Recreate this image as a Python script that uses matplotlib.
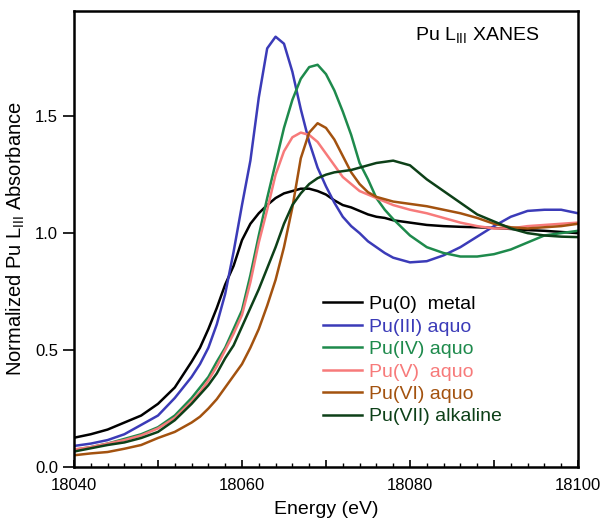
import matplotlib
matplotlib.use("Agg")
import matplotlib.pyplot as plt
from matplotlib.ticker import MultipleLocator, FuncFormatter

plt.rcParams["font.family"] = ["Liberation Sans", "DejaVu Sans"]
plt.rcParams["mathtext.fontset"] = "custom"
plt.rcParams["mathtext.rm"] = "Liberation Sans"
plt.rcParams["mathtext.it"] = "Liberation Sans:italic"

# Energy grid (eV)
energy = [18040, 18042, 18044, 18046, 18048, 18050, 18052, 18054, 18055, 18056,
          18057, 18058, 18059, 18060, 18061, 18062, 18063, 18064, 18065, 18066,
          18067, 18068, 18069, 18070, 18071, 18072, 18073, 18074, 18075, 18076,
          18077, 18078, 18080, 18082, 18084, 18086, 18088, 18090, 18092, 18094,
          18096, 18098, 18100]

pu0_metal = [0.125, 0.14, 0.16, 0.19, 0.22, 0.27, 0.34, 0.45, 0.51, 0.59,
             0.68, 0.78, 0.86, 0.97, 1.04, 1.085, 1.12, 1.15, 1.17, 1.18,
             1.19, 1.19, 1.18, 1.165, 1.14, 1.12, 1.11, 1.095, 1.08, 1.07,
             1.065, 1.055, 1.045, 1.035, 1.03, 1.027, 1.025, 1.022, 1.018, 1.013,
             1.01, 1.005, 1.0]

pu3_aquo = [0.09, 0.10, 0.115, 0.14, 0.18, 0.22, 0.295, 0.385, 0.44, 0.51,
            0.61, 0.74, 0.92, 1.12, 1.31, 1.58, 1.79, 1.84, 1.81, 1.69,
            1.53, 1.39, 1.28, 1.20, 1.13, 1.07, 1.03, 1.0, 0.965, 0.94,
            0.915, 0.895, 0.875, 0.88, 0.905, 0.94, 0.985, 1.03, 1.07, 1.095,
            1.10, 1.10, 1.085]

pu4_aquo = [0.073, 0.085, 0.10, 0.12, 0.14, 0.17, 0.22, 0.295, 0.34, 0.385,
            0.45, 0.51, 0.59, 0.67, 0.82, 0.99, 1.15, 1.30, 1.45, 1.57,
            1.66, 1.71, 1.72, 1.68, 1.61, 1.52, 1.42, 1.30, 1.23, 1.15,
            1.10, 1.06, 0.99, 0.94, 0.915, 0.90, 0.90, 0.91, 0.93, 0.96,
            0.99, 1.0, 1.01]

pu5_aquo = [0.075, 0.085, 0.10, 0.115, 0.135, 0.165, 0.21, 0.28, 0.32, 0.37,
            0.43, 0.50, 0.57, 0.65, 0.79, 0.96, 1.10, 1.25, 1.35, 1.41,
            1.43, 1.42, 1.39, 1.34, 1.29, 1.24, 1.21, 1.18, 1.165, 1.15,
            1.135, 1.12, 1.10, 1.085, 1.065, 1.045, 1.03, 1.02, 1.02, 1.03,
            1.035, 1.04, 1.045]

pu6_aquo = [0.05, 0.058, 0.064, 0.078, 0.094, 0.124, 0.15, 0.19, 0.215, 0.25,
            0.29, 0.34, 0.39, 0.44, 0.51, 0.59, 0.69, 0.80, 0.94, 1.11,
            1.32, 1.43, 1.47, 1.45, 1.40, 1.33, 1.26, 1.21, 1.175, 1.155,
            1.145, 1.135, 1.125, 1.115, 1.10, 1.085, 1.065, 1.04, 1.025, 1.02,
            1.025, 1.03, 1.04]

pu7_alkaline = [0.066, 0.08, 0.094, 0.105, 0.124, 0.15, 0.20, 0.27, 0.31, 0.35,
                0.40, 0.465, 0.52, 0.60, 0.68, 0.76, 0.85, 0.94, 1.04, 1.12,
                1.17, 1.21, 1.235, 1.25, 1.26, 1.265, 1.27, 1.28, 1.29, 1.30,
                1.305, 1.31, 1.29, 1.23, 1.18, 1.13, 1.08, 1.05, 1.02, 1.0,
                0.99, 0.985, 0.983]

labels = ["Pu(0)  metal", "Pu(III) aquo", "Pu(IV) aquo", "Pu(V)  aquo",
          "Pu(VI) aquo", "Pu(VII) alkaline"]
series = [pu0_metal, pu3_aquo, pu4_aquo, pu5_aquo, pu6_aquo, pu7_alkaline]
colors = ["#000000", "#3b3bb8", "#1e8a4c", "#f77a7a", "#a3520f", "#0d4018"]

fig = plt.figure(figsize=(6.03, 5.18), dpi=100)
ax = fig.add_axes([0.1227, 0.0985, 0.8358, 0.8803])

for ys, lab, col in zip(series, labels, colors):
    ax.plot(energy, ys, color=col, lw=1.8, label=lab)

ax.set_xlim(18040, 18100)
ax.set_ylim(0, 1.95)

ax.xaxis.set_major_locator(MultipleLocator(10))
ax.xaxis.set_minor_locator(MultipleLocator(2))
ax.xaxis.set_major_formatter(FuncFormatter(
    lambda v, p: f"{int(round(v))}" if int(round(v)) % 20 == 0 else ""))
ax.yaxis.set_major_locator(MultipleLocator(0.5))
ax.yaxis.set_major_formatter(FuncFormatter(lambda v, p: f"{v:.1f}"))

ax.tick_params(axis="x", which="major", direction="in", length=5, width=1.2,
               labelsize=12, pad=8)
ax.tick_params(axis="x", which="minor", direction="in", length=3, width=1.0)
ax.tick_params(axis="y", which="major", direction="out", length=8, width=1.2,
               labelsize=12)

for sp in ax.spines.values():
    sp.set_linewidth(1.8)

ax.set_xlabel("Energy (eV)", fontsize=14, labelpad=6)
ax.set_ylabel(r"Normalized Pu L$_{\mathrm{III}}$ Absorbance", fontsize=14.5,
              labelpad=6)

ax.text(0.80, 0.947, r"Pu L$_{\mathrm{III}}$ XANES", transform=ax.transAxes,
        ha="center", va="center", fontsize=14)

leg = ax.legend(loc="upper left", bbox_to_anchor=(0.495, 0.376), frameon=False,
                fontsize=14, handlelength=2.0, handletextpad=0.35,
                labelspacing=0.25, borderpad=0, borderaxespad=0)
for txt, col in zip(leg.get_texts(), colors):
    txt.set_color(col)
for ln in leg.get_lines():
    ln.set_linewidth(1.8)

fig.savefig("out.png", dpi=100)
